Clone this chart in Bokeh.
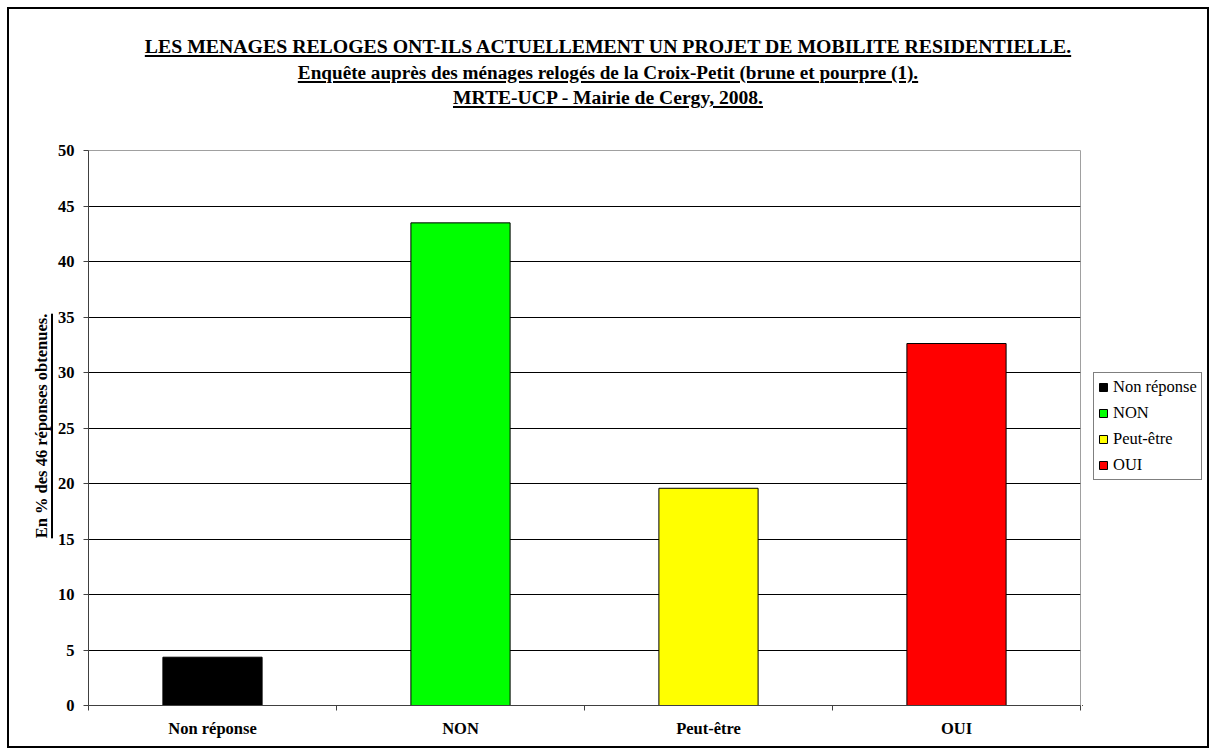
import html
from bokeh.plotting import figure
from bokeh.layouts import column, row
from bokeh.models import (Range1d, FixedTicker, ColumnDataSource, Legend, LegendItem, Div)
from bokeh.embed import file_html
from bokeh.resources import INLINE

# ---- data ----
categories = ["Non réponse", "NON", "Peut-être", "OUI"]
values = [4.35, 43.48, 19.57, 32.61]
colors = ["#000000", "#00FF00", "#FFFF00", "#FF0000"]
y_ticks = [0, 5, 10, 15, 20, 25, 30, 35, 40, 45, 50]
title_lines = [
    "LES MENAGES RELOGES ONT-ILS ACTUELLEMENT UN PROJET DE MOBILITE RESIDENTIELLE.",
    "Enquête auprès des ménages relogés de la Croix-Petit (brune et pourpre (1).",
    "MRTE-UCP - Mairie de Cergy, 2008.",
]
y_label = "En % des 46 réponses obtenues."

FONT = "Liberation Serif"

W, H = 1216, 755
TITLE_H = 140
YLAB_W = 54
LEG_W = 134
PW, PH = W - YLAB_W - LEG_W, H - TITLE_H
NCAT = len(categories)

xs = [i + 0.5 for i in range(NCAT)]
src = ColumnDataSource(dict(x=xs, top=values, color=colors, cat=categories))

# ---- main plot ----
p = figure(width=PW, height=PH, output_backend="svg", toolbar_location=None,
           x_range=Range1d(0, NCAT), y_range=Range1d(0, max(y_ticks)),
           min_border_left=33, min_border_right=2, min_border_top=10, min_border_bottom=50)
p.background_fill_color = "white"
p.border_fill_alpha = 0
p.outline_line_color = "#a0a0a0"
p.outline_line_width = 1

p.vbar(x="x", top="top", width=0.4, bottom=0, fill_color="color", line_color="#000000",
       line_width=1, source=src)

xa = p.xaxis[0]
xa.ticker = FixedTicker(ticks=xs, minor_ticks=list(range(NCAT + 1)))
xa.major_label_overrides = {x: c for x, c in zip(xs, categories)}
xa.major_tick_out = 0
xa.major_tick_in = 0
xa.minor_tick_out = 5
xa.minor_tick_in = 0
xa.axis_line_color = "#404040"
xa.minor_tick_line_color = "#404040"
xa.major_label_standoff = 8
xa.major_label_text_font = FONT
xa.major_label_text_font_style = "bold"
xa.major_label_text_font_size = "16.5px"
xa.major_label_text_color = "black"

ya = p.yaxis[0]
ya.ticker = FixedTicker(ticks=y_ticks, minor_ticks=[])
ya.major_tick_out = 5
ya.major_tick_in = 0
ya.minor_tick_out = 0
ya.minor_tick_in = 0
ya.axis_line_color = "#404040"
ya.major_tick_line_color = "#404040"
ya.major_label_standoff = 9
ya.major_label_text_font = FONT
ya.major_label_text_font_style = "bold"
ya.major_label_text_font_size = "16.5px"
ya.major_label_text_color = "black"

p.xgrid.visible = False
p.ygrid.grid_line_color = "black"
p.ygrid.grid_line_width = 1
p.ygrid.grid_line_alpha = 1

# ---- legend panel (a small plot holding the legend to the right of the plot area) ----
lp = figure(width=LEG_W, height=PH, output_backend="svg", toolbar_location=None,
            x_range=Range1d(100, 101), y_range=Range1d(100, 101),
            x_axis_location=None, y_axis_location=None,
            min_border_left=0, min_border_right=0, min_border_top=0, min_border_bottom=0)
lp.grid.visible = False
lp.outline_line_color = None
lp.background_fill_alpha = 0
lp.border_fill_alpha = 0
lr = lp.vbar(x="x", top="top", width=0.4, bottom=0, fill_color="color", line_color="#000000",
             line_width=1, source=src)
lg = Legend(items=[LegendItem(label=c, renderers=[lr], index=i) for i, c in enumerate(categories)])
lg.location = (11, 225)
lg.orientation = "vertical"
lg.border_line_color = "black"
lg.border_line_width = 1
lg.background_fill_color = "white"
lg.background_fill_alpha = 1
lg.glyph_width = 10
lg.glyph_height = 10
lg.label_height = 10
lg.label_standoff = 5
lg.spacing = 6
lg.padding = 4
lg.margin = 0
lg.label_text_font = FONT
lg.label_text_font_size = "16.5px"
lg.label_text_color = "black"
lp.add_layout(lg, "center")

# ---- title block (underlined lines) ----
title_sizes = ["19.8px", "19.2px", "19.6px"]
line_style = ("text-decoration:underline;text-decoration-thickness:1.5px;"
              "text-underline-offset:2px;white-space:nowrap;")
title_html = (
    f"<div style=\"width:{W}px;padding-top:34px;font-family:'{FONT}';font-weight:bold;"
    "line-height:25.5px;text-align:center;color:black;margin:0;\">"
    + "".join(f"<div style=\"{line_style}font-size:{s};\"><span>{html.escape(t)}</span></div>"
              for t, s in zip(title_lines, title_sizes))
    + "</div>"
)
title_div = Div(text=title_html, width=W, height=TITLE_H, margin=0)

# ---- rotated, underlined y-axis label ----
ylab_html = (
    f"<div style=\"width:300px;height:20px;margin-top:{426 - TITLE_H - 10}px;margin-left:-108px;"
    f"transform:rotate(-90deg);font-family:'{FONT}';font-weight:bold;font-size:16.5px;"
    "line-height:20px;text-align:center;color:black;white-space:nowrap;\">"
    f"<span style=\"text-decoration:underline;text-decoration-thickness:1.5px;"
    f"text-underline-offset:4px;\">{html.escape(y_label)}</span></div>"
)
ylab_div = Div(text=ylab_html, width=YLAB_W, height=PH, margin=0)

root = column(title_div, row(ylab_div, p, lp, spacing=0), spacing=0,
              styles={"outline": "2px solid black", "outline-offset": "-9px",
                      "background-color": "white"})

open("out.html", "w").write(file_html(root, INLINE))
